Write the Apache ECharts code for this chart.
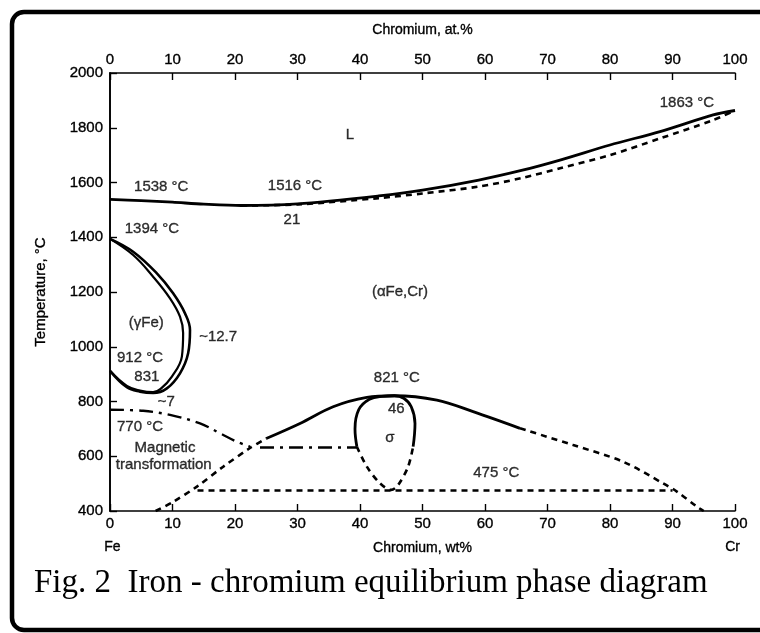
<!DOCTYPE html>
<html>
<head>
<meta charset="utf-8">
<script src="https://cdn.jsdelivr.net/npm/echarts@6/dist/echarts.min.js"></script>
<style>
  html, body { margin: 0; padding: 0; background: #ffffff; }
  #chart { width: 760px; height: 633px; }
</style>
</head>
<body>
<div id="chart"></div>
<script>
// ---- axis ticks ----
var wtTicks = [0, 10, 20, 30, 40, 50, 60, 70, 80, 90, 100];
var atTicks = [0, 10, 20, 30, 40, 50, 60, 70, 80, 90, 100];
var tempTicks = [400, 600, 800, 1000, 1200, 1400, 1600, 1800, 2000];

// ---- phase boundaries [wt% Cr, temperature °C] ----
var liquidus = [[0,1538],[5,1534],[10,1528],[15,1521],[21,1516],[30,1522],[43,1551],[50,1572],[59,1609],[66,1645],[72,1682],[80,1737],[88,1786],[96.5,1847],[100,1863]];
var solidus = [[21,1516],[30,1520],[43,1543],[50,1560],[59,1585],[66,1617],[72,1652],[80,1700],[88,1761],[96.5,1828],[100,1863]];
var gammaOuter = [[0,1394],[3.7,1347],[7.5,1268],[10.1,1195],[12,1122],[12.8,1061],[12.5,976],[11.2,903],[9.1,848],[6.9,831],[4.8,836],[2.7,852],[0,912]];
var gammaInner = [[0,1394],[3.7,1335],[6.9,1256],[9.6,1177],[11.2,1110],[11.7,1050],[11.5,964],[9.9,891],[8.1,846],[6.9,834],[4.8,840],[2.7,857],[0,912]];
var magneticCurve = [[0,770],[5.3,766],[9.6,751],[14.4,720],[17.6,684],[20.3,653],[22.4,635]];
var magneticLine = [[24,632],[39.5,632]];
var sigmaSolvusLeft = [[7.3,400],[10,432],[13.9,489],[18,560],[22.4,630],[25,665]];
var sigmaSolvusTop = [[25,665],[30.4,720],[35.7,781],[41.1,815],[45.5,821],[52.3,805],[58.1,763],[65.6,702]];
var sigmaSolvusRight = [[65.6,702],[74.1,641],[82.1,580],[88.5,501],[90.7,471],[93.9,416],[95,400]];
var eutectoid475 = [[14,475],[90,475]];
var sigmaSolid = [[39.5,635],[39.2,700],[39.8,770],[41.5,808],[43.5,819],[45.5,821],[47,812],[48.2,781],[48.8,720],[48.5,635]];
var sigmaDashed = [[39.5,635],[41.1,562],[43.2,501],[45,477],[46.1,495],[47.7,562],[48.5,635]];

// ---- annotations [wt% Cr, temperature °C, text] ----
var annotations = [
  [38.4,1774,'L'],
  [8.2,1584,'1538 °C'],
  [29.6,1587,'1516 °C'],
  [29.1,1463,'21'],
  [92.3,1890,'1863 °C'],
  [6.7,1430,'1394 °C'],
  [5.8,1087,'(γFe)'],
  [17.3,1036,'~12.7'],
  [4.8,959,'912 °C'],
  [5.9,889,'831'],
  [9.0,798,'~7'],
  [4.8,707,'770 °C'],
  [8.8,630,'Magnetic'],
  [8.6,568,'transformation'],
  [45.9,886,'821 °C'],
  [45.8,773,'46'],
  [44.8,667,'σ'],
  [61.8,539,'475 °C'],
  [46.4,1200,'(αFe,Cr)']
];

var FONT = '"Liberation Sans", Arial, Helvetica, sans-serif';
var INK = { textBorderColor: '#000', textBorderWidth: 0.35 };

function line(data, dash, width, smooth) {
  return {
    type: 'line', data: data, showSymbol: false, symbol: 'none',
    smooth: smooth === undefined ? 0.35 : smooth, silent: true,
    xAxisIndex: 0, yAxisIndex: 0,
    lineStyle: { color: '#000', width: width || 2.6, type: dash || 'solid' }
  };
}
var DASH = [6, 5];
var DASHDOT = [14, 6, 3, 6];

function lbl(extra) {
  var o = { fontFamily: FONT, fontSize: 15, color: '#000', textBorderColor: '#000', textBorderWidth: 0.35 };
  for (var k in extra) o[k] = extra[k];
  return o;
}

var chart = echarts.init(document.getElementById('chart'), null, { renderer: 'canvas' });
chart.setOption({
  animation: false,
  backgroundColor: '#ffffff',
  textStyle: { fontFamily: FONT, color: '#000' },
  grid: { left: 110, right: 25, top: 73, bottom: 122, containLabel: false },
  xAxis: [
    {
      type: 'value', position: 'bottom', min: 0, max: 100, interval: 10,
      name: 'Chromium, wt%', nameLocation: 'middle', nameGap: 30,
      nameTextStyle: lbl({ fontSize: 14 }),
      axisLine: { lineStyle: { color: '#000', width: 1.6 } },
      axisTick: { inside: true, length: 7, lineStyle: { color: '#000', width: 1.4 } },
      axisLabel: lbl({ margin: 5 }),
      splitLine: { show: false }
    },
    {
      type: 'value', position: 'top', min: 0, max: 100, interval: 10,
      name: 'Chromium, at.%', nameLocation: 'middle', nameGap: 36,
      nameTextStyle: lbl({ fontSize: 14 }),
      axisLine: { lineStyle: { color: '#000', width: 1.6 } },
      axisTick: { inside: true, length: 7, lineStyle: { color: '#000', width: 1.4 } },
      axisLabel: lbl({ margin: 6,
        formatter: function (v) { return atTicks.indexOf(v) >= 0 ? String(v) : ''; } }),
      splitLine: { show: false }
    }
  ],
  yAxis: [
    {
      type: 'value', position: 'left', min: 400, max: 2000, interval: 200,
      name: 'Temperature, °C', nameLocation: 'middle', nameGap: 62, nameRotate: 90,
      nameTextStyle: lbl({}),
      axisLine: { lineStyle: { color: '#000', width: 1.6 } },
      axisTick: { inside: true, length: 7, lineStyle: { color: '#000', width: 1.4 } },
      axisLabel: lbl({ margin: 7,
        formatter: function (v) { return tempTicks.indexOf(v) >= 0 ? String(v) : ''; } }),
      splitLine: { show: false }
    },
    {
      type: 'value', position: 'right', min: 400, max: 2000, interval: 200,
      axisLine: { show: true, lineStyle: { color: '#000', width: 1.6 } },
      axisTick: { show: false }, axisLabel: { show: false }, splitLine: { show: false }
    }
  ],
  series: [
    line(liquidus, 'solid', 2.8, 0.3),
    line(solidus, DASH, 2.6, 0.3),
    line(gammaOuter, 'solid', 2.6, 0.4),
    line(gammaInner, 'solid', 2.2, 0.4),
    line(magneticCurve, DASHDOT, 2.4, 0.35),
    line(magneticLine, DASHDOT, 2.4, 0),
    line(sigmaSolvusLeft, DASH, 2.6, 0.3),
    line(sigmaSolvusTop, 'solid', 2.8, 0.35),
    line(sigmaSolvusRight, DASH, 2.6, 0.3),
    line(eutectoid475, DASH, 2.6, 0),
    line(sigmaSolid, 'solid', 2.8, 0.4),
    line(sigmaDashed, DASH, 2.6, 0.3),
    {
      type: 'scatter', silent: true, symbolSize: 0, xAxisIndex: 0, yAxisIndex: 0,
      data: annotations.map(function (a) { return { value: [a[0], a[1]], name: a[2] }; }),
      label: lbl({ show: true, position: 'inside', formatter: '{b}' })
    }
  ],
  graphic: [
    { type: 'rect', silent: true, shape: { x: 12, y: 12, width: 800, height: 618, r: 12 },
      style: { fill: 'none', stroke: '#000', lineWidth: 4.5 } },
    { type: 'text', silent: true, left: 104, top: 540,
      style: { text: 'Fe', font: '14px ' + FONT, fill: '#000', stroke: '#000', lineWidth: 0.35 } },
    { type: 'text', silent: true, left: 725, top: 540,
      style: { text: 'Cr', font: '14px ' + FONT, fill: '#000', stroke: '#000', lineWidth: 0.35 } },
    { type: 'text', silent: true, left: 34, top: 567,
      style: { text: 'Fig. 2  Iron - chromium equilibrium phase diagram',
        font: '33px "Liberation Serif", "Times New Roman", serif', fill: '#000' } }
  ]
});
</script>
</body>
</html>
